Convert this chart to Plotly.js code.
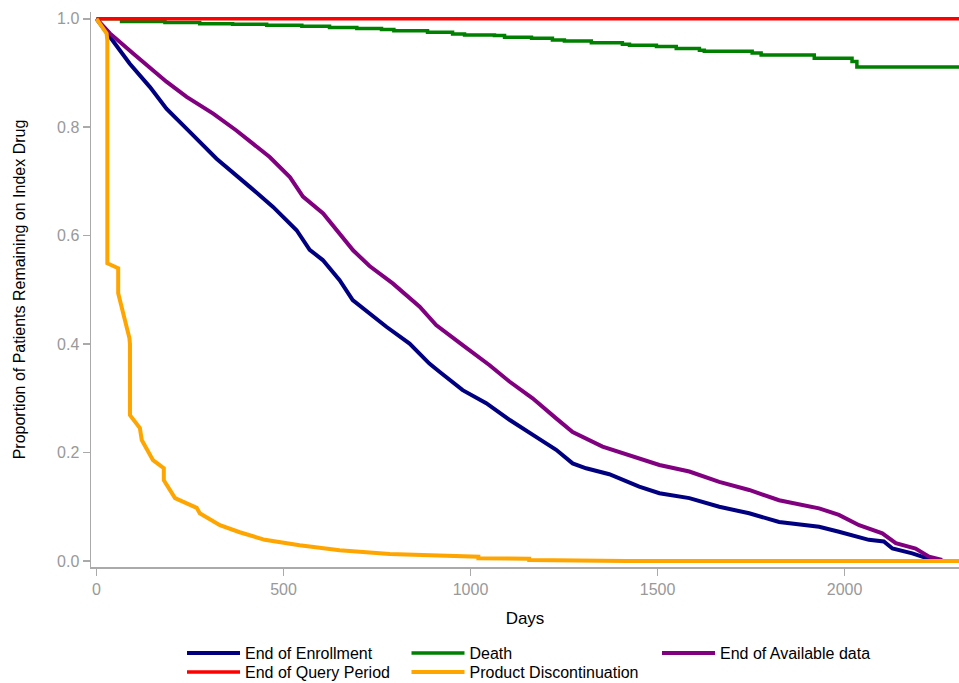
<!DOCTYPE html>
<html>
<head>
<meta charset="utf-8">
<script src="https://cdn.plot.ly/plotly-3.0.1.min.js"></script>
<style>html,body{margin:0;padding:0;background:#fff;}#chart{width:959px;height:683px;}</style>
</head>
<body>
<div id="chart"></div>
<script>
// Days / proportion pairs
const enrollmentDays = [0, 36, 89, 143, 187, 250, 321, 410, 472, 535, 570, 605, 650, 685, 722, 775, 837, 890, 917, 979, 1042, 1105, 1175, 1229, 1273, 1309, 1371, 1451, 1505, 1585, 1665, 1745, 1825, 1932, 1985, 2065, 2105, 2128, 2181, 2226, 2234];
const enrollmentVals = [1.0, 0.966, 0.917, 0.874, 0.834, 0.791, 0.742, 0.690, 0.653, 0.610, 0.574, 0.555, 0.518, 0.481, 0.460, 0.432, 0.401, 0.364, 0.349, 0.315, 0.291, 0.260, 0.229, 0.205, 0.180, 0.171, 0.160, 0.137, 0.125, 0.116, 0.100, 0.088, 0.072, 0.063, 0.054, 0.039, 0.036, 0.023, 0.014, 0.005, 0.002];

const availableDays = [0, 36, 98, 187, 241, 312, 374, 419, 463, 517, 552, 606, 650, 686, 730, 792, 864, 908, 979, 1051, 1104, 1166, 1229, 1273, 1353, 1442, 1505, 1585, 1665, 1745, 1825, 1932, 1985, 2039, 2101, 2137, 2190, 2226, 2261];
const availableVals = [1.0, 0.973, 0.936, 0.884, 0.856, 0.825, 0.794, 0.770, 0.745, 0.708, 0.672, 0.641, 0.604, 0.573, 0.544, 0.512, 0.469, 0.435, 0.398, 0.361, 0.331, 0.300, 0.263, 0.238, 0.211, 0.192, 0.177, 0.165, 0.146, 0.131, 0.112, 0.097, 0.085, 0.066, 0.051, 0.033, 0.023, 0.008, 0.002];

const deathDays = [0, 67, 183, 276, 364, 455, 549, 623, 696, 762, 795, 885, 952, 984, 1064, 1091, 1163, 1219, 1251, 1323, 1406, 1425, 1497, 1550, 1612, 1625, 1753, 1777, 1919, 2020, 2033, 2310];
const deathVals = [1.0, 0.995, 0.993, 0.991, 0.990, 0.988, 0.986, 0.984, 0.982, 0.980, 0.978, 0.975, 0.972, 0.970, 0.969, 0.966, 0.964, 0.961, 0.959, 0.956, 0.953, 0.951, 0.949, 0.945, 0.942, 0.940, 0.937, 0.933, 0.927, 0.921, 0.911, 0.911];

const queryDays = [0, 2310];
const queryVals = [1.0, 1.0];

const discontDays = [0, 27, 29, 29, 58, 58, 88, 89.5, 89.5, 116, 121, 151, 180, 180, 210, 268, 276, 330, 383, 450, 543, 650, 784, 1021, 1021, 1157, 1157, 1416, 1416, 2310];
const discontVals = [1.0, 0.973, 0.960, 0.549, 0.540, 0.494, 0.411, 0.400, 0.269, 0.245, 0.223, 0.186, 0.171, 0.149, 0.116, 0.098, 0.088, 0.066, 0.053, 0.039, 0.029, 0.020, 0.013, 0.008, 0.005, 0.004, 0.002, 0.001, 0.0, 0.0];

const seriesNames = ["End of Enrollment", "Death", "End of Available data", "End of Query Period", "Product Discontinuation"];
const seriesColors = ["#000080", "#008000", "#800080", "#ff0000", "#ffa500"];

const xTicks = [0, 500, 1000, 1500, 2000];
const yTicks = [0.0, 0.2, 0.4, 0.6, 0.8, 1.0];
const yTickText = ["0.0", "0.2", "0.4", "0.6", "0.8", "1.0"];

const FONT = "Liberation Sans, Arial, sans-serif";

const traces = [
  {x: enrollmentDays, y: enrollmentVals, name: seriesNames[0], mode: "lines", line: {color: seriesColors[0], width: 4}, legend: "legend"},
  {x: deathDays, y: deathVals, name: seriesNames[1], mode: "lines", line: {color: seriesColors[1], width: 3.5, shape: "hv"}, legend: "legend2"},
  {x: availableDays, y: availableVals, name: seriesNames[2], mode: "lines", line: {color: seriesColors[2], width: 4}, legend: "legend3"},
  {x: queryDays, y: queryVals, name: seriesNames[3], mode: "lines", line: {color: seriesColors[3], width: 3.5}, legend: "legend4"},
  {x: discontDays, y: discontVals, name: seriesNames[4], mode: "lines", line: {color: seriesColors[4], width: 4}, legend: "legend5"}
];

// plot area in pixels: x 91..959, y 12..567
const PX0 = 91, PW = 868, PY1 = 567, PH = 555;
function leg(px, py) {
  return {orientation: "v", xref: "paper", yref: "paper", xanchor: "left", yanchor: "middle",
          x: (px - PX0) / PW, y: (PY1 - py) / PH, bgcolor: "rgba(0,0,0,0)", borderwidth: 0, itemwidth: 53,
          font: {family: FONT, size: 16, color: "#000"}};
}

const layout = {
  width: 959, height: 683,
  margin: {l: 91, r: 0, t: 12, b: 116, pad: 0, autoexpand: false},
  paper_bgcolor: "#fff", plot_bgcolor: "#fff",
  font: {family: FONT, size: 16, color: "#000"},
  showlegend: true,
  legend: leg(182, 653),
  legend2: leg(406.5, 653),
  legend3: leg(657, 653),
  legend4: leg(182, 672),
  legend5: leg(406.5, 672),
  xaxis: {
    range: [-14.7, 2306], showgrid: false, zeroline: false,
    showline: true, linecolor: "#aaaaaa", linewidth: 1.5,
    ticks: "outside", ticklen: 7, tickcolor: "#aaaaaa", tickwidth: 1.5,
    tickvals: xTicks, ticktext: xTicks.map(String),
    tickfont: {family: FONT, size: 16, color: "#999999"},
    title: {text: "Days", font: {family: FONT, size: 17, color: "#000"}, standoff: 15},
    automargin: false
  },
  yaxis: {
    range: [-0.0111, 1.0125], showgrid: false, zeroline: false,
    showline: true, linecolor: "#aaaaaa", linewidth: 1.5,
    ticks: "outside", ticklen: 7, tickcolor: "#aaaaaa", tickwidth: 1.5,
    tickvals: yTicks, ticktext: yTickText,
    tickfont: {family: FONT, size: 16, color: "#999999"},
    title: {text: "Proportion of Patients Remaining on Index Drug", font: {family: FONT, size: 16, color: "#000"}, standoff: 27},
    automargin: false
  }
};

Plotly.newPlot("chart", traces, layout, {displayModeBar: false, staticPlot: true});
</script>
</body>
</html>
